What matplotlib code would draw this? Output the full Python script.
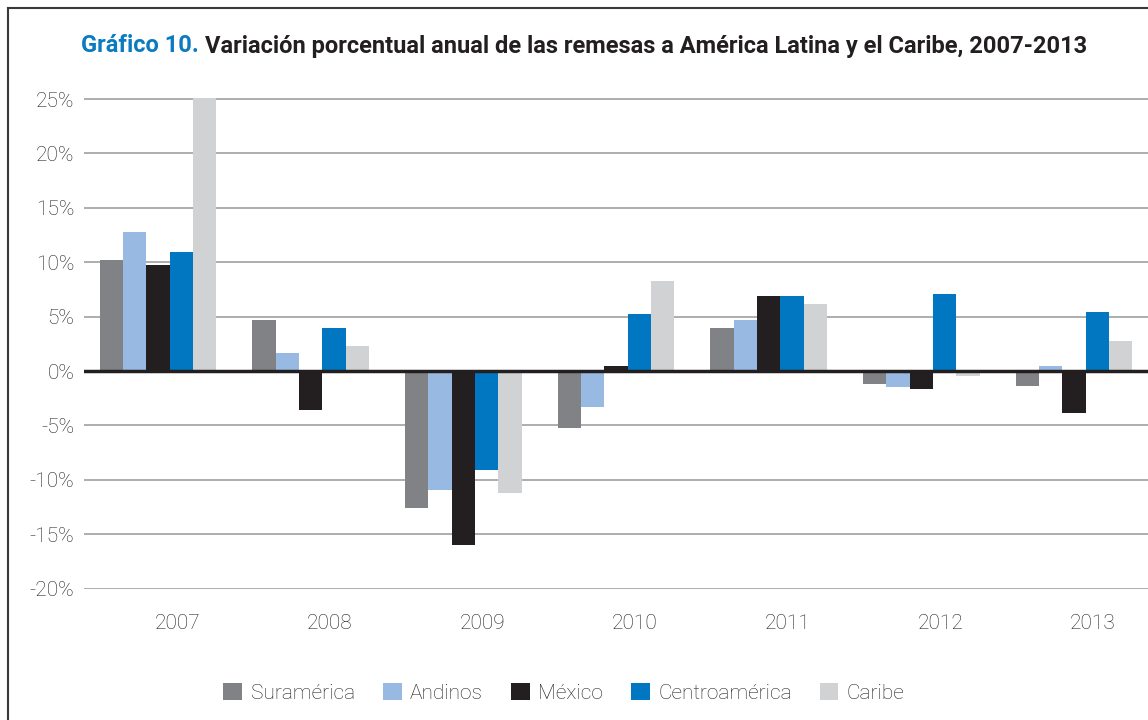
import matplotlib
matplotlib.use("Agg")
import matplotlib.pyplot as plt
import numpy as np
from matplotlib.lines import Line2D
from matplotlib.patches import Patch

years = ["2007", "2008", "2009", "2010", "2011", "2012", "2013"]
series_names = ["Suramérica", "Andinos", "México", "Centroamérica", "Caribe"]
suramerica = [10.2, 4.7, -12.6, -5.2, 4.0, -1.2, -1.4]
andinos = [12.8, 1.65, -10.9, -3.3, 4.7, -1.45, 0.45]
mexico = [9.7, -3.6, -16.0, 0.45, 6.9, -1.65, -3.85]
centroamerica = [10.9, 3.95, -9.1, 5.2, 6.9, 7.1, 5.4]
caribe = [25.1, 2.3, -11.2, 8.3, 6.15, -0.45, 2.8]
colors = ["#818286", "#97b9e2", "#231f20", "#0077c0", "#d1d2d4"]
yticks = [-20, -15, -10, -5, 0, 5, 10, 15, 20, 25]

plt.rcParams["font.family"] = ["Roboto", "DejaVu Sans"]
text_color = "#231f20"

fig = plt.figure(figsize=(11.48, 7.2), dpi=100)
ax = fig.add_axes([84 / 1148, 1 - 588.6 / 720, 1 - 84 / 1148, (588.6 - 93.6) / 720])

x = np.arange(len(years))
width = 0.153
data = [suramerica, andinos, mexico, centroamerica, caribe]
for i, (vals, col) in enumerate(zip(data, colors)):
    ax.bar(x + (i - 2) * width, vals, width=width, color=col, zorder=3)

ax.set_xlim(-0.485, 6.485)
ax.set_ylim(-20, 25.5)
ax.set_yticks(yticks)
ax.set_yticklabels([f"{v}%" for v in yticks])
# year labels sit a little right of the bar groups, as in the source
ax.set_xticks(x + 0.125)
ax.set_xticklabels(years)
for s in ax.spines.values():
    s.set_visible(False)
ax.tick_params(axis="both", length=0, labelsize=15, colors=text_color)
ax.tick_params(axis="y", pad=7)
ax.tick_params(axis="x", pad=18)
for lab in ax.get_xticklabels() + ax.get_yticklabels():
    lab.set_fontweight("light")
ax.grid(axis="y", color="#a7a7a7", linewidth=1.3, zorder=0)
ax.axhline(0, color=text_color, linewidth=2.5, zorder=4)

# frame around the figure
fig.add_artist(Line2D([8 / 1148, 8 / 1148], [0, 1 - 8 / 720], color="#3a3a3a", linewidth=1.5))
fig.add_artist(Line2D([8 / 1148, 1], [1 - 8 / 720, 1 - 8 / 720], color="#3a3a3a", linewidth=1.5))

# title
t1 = fig.text(0.5, 1 - 46 / 720, "Gráfico 10. ", color="#0a7bc1", fontsize=17,
              fontweight="bold", ha="left", va="center")
t2 = fig.text(0.5, 1 - 46 / 720, "Variación porcentual anual de las remesas a América Latina y el Caribe, 2007-2013",
              color=text_color, fontsize=17, fontweight="bold", ha="left", va="center")
fig.canvas.draw()
r = fig.canvas.get_renderer()
w1 = t1.get_window_extent(r).width
w2 = t2.get_window_extent(r).width
start = 584 - (w1 + w2) / 2
t1.set_x(start / 1148)
t2.set_x((start + w1) / 1148)

handles = [Patch(facecolor=c, edgecolor="none") for c in colors]
leg = fig.legend(handles, series_names, loc="center", bbox_to_anchor=(564 / 1148, 1 - 693 / 720),
                 ncol=5, frameon=False, fontsize=15, handlelength=0.9, handleheight=0.9,
                 handletextpad=0.4, columnspacing=1.35)
for t in leg.get_texts():
    t.set_color(text_color)
    t.set_fontweight("light")

fig.savefig("out.png", dpi=100)
